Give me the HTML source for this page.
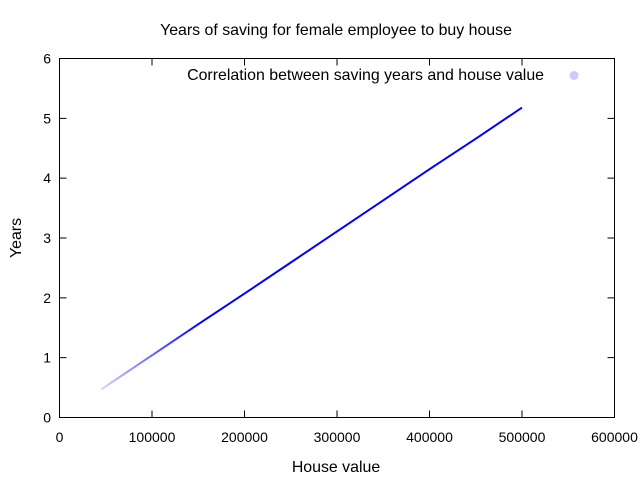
<!DOCTYPE html>
<html><head><meta charset="utf-8"><style>
body{margin:0;background:#fff;font-family:"Liberation Sans","DejaVu Sans",sans-serif}
text{font-family:"Liberation Sans","DejaVu Sans",sans-serif;font-size:14px;fill:#000}
.lbl{font-size:15.9px}
</style></head><body>
<svg id="chart" width="640" height="480">
<defs><linearGradient id="fade" gradientUnits="userSpaceOnUse" x1="100" y1="0" x2="200" y2="0">
<stop offset="0" stop-color="#0000ff" stop-opacity="0.15"/><stop offset="1" stop-color="#0000ff" stop-opacity="1"/></linearGradient></defs>
<text class="lbl" x="336" y="35" text-anchor="middle">Years of saving for female employee to buy house</text>
<rect x="59.5" y="58.5" width="555" height="359" fill="none" stroke="#000"/>
<g id="axes"></g>
<g id="marks"></g>
<text class="lbl" x="336" y="472" text-anchor="middle">House value</text>
<text class="lbl" x="0" y="0" transform="translate(21,238) rotate(-90)" text-anchor="middle">Years</text>
<text class="lbl" x="544" y="80" text-anchor="end">Correlation between saving years and house value</text>
<circle cx="574" cy="75.5" r="4.5" fill="#ccccf8"/>
</svg>
<script>
const houseValues=[45000,100000,150000,200000,250000,300000,350000,400000,450000,500000];
const savingYears=[0.47,1.04,1.56,2.07,2.59,3.11,3.63,4.15,4.66,5.18];
const xTicks=[0,100000,200000,300000,400000,500000,600000];
const yTicks=[0,1,2,3,4,5,6];
const X0=59.5,X1=614.5,Y0=417.5,Y1=58.5;
const sx=v=>X0+(v-0)/600000*(X1-X0);
const sy=v=>Y0-(v-0)/6*(Y0-Y1);
const NS="http://www.w3.org/2000/svg";
const axes=document.getElementById('axes'),marks=document.getElementById('marks');
function mk(tag,attrs,parent){const e=document.createElementNS(NS,tag);for(const k in attrs)e.setAttribute(k,attrs[k]);parent.appendChild(e);return e;}
xTicks.forEach(t=>{const x=sx(t);
 const l=mk('path',{d:`M${x},${Y0}v-7M${x},${Y1}v7`,stroke:'#000'},axes);
 
 
 const tx=mk('text',{x:x,y:442,'text-anchor':'middle'},axes);tx.textContent=t;
 
 });
yTicks.forEach(t=>{const y=sy(t);
 const l=mk('path',{d:`M${X0},${y}h7M${X1},${y}h-7`,stroke:'#000'},axes);
 
 
 const tx=mk('text',{x:51,y:y+5,'text-anchor':'end'},axes);tx.textContent=t;
 
 });
const pts=houseValues.map((v,i)=>sx(v).toFixed(1)+','+sy(savingYears[i]).toFixed(1)).join(' ');
const pl=mk('polyline',{points:pts,fill:'none',stroke:'url(#fade)','stroke-width':2},marks);


</script>
</body></html>
